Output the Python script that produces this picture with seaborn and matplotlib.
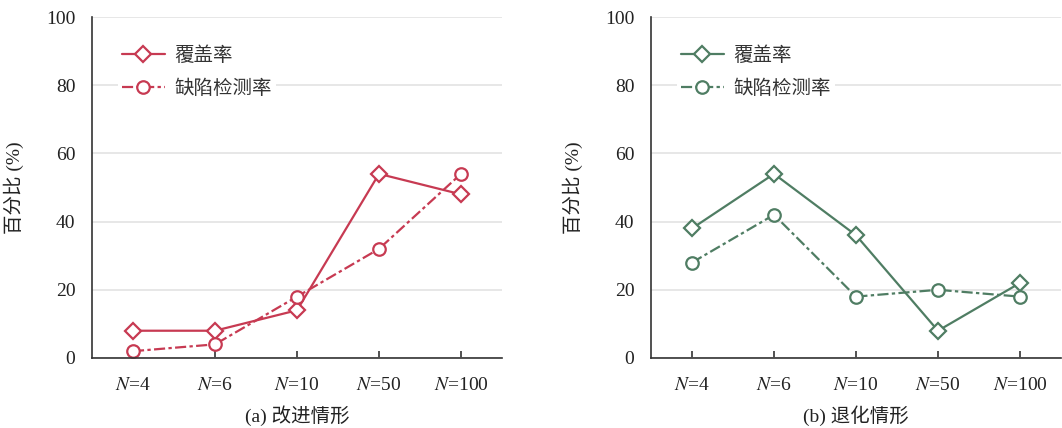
import matplotlib
matplotlib.use("Agg")
import matplotlib.pyplot as plt
import seaborn as sns

categories = ["$N$=4", "$N$=6", "$N$=10", "$N$=50", "$N$=100"]
improve_coverage = [8, 8, 14, 54, 48]
improve_detect = [2, 4, 18, 32, 54]
degrade_coverage = [38, 54, 36, 8, 22]
degrade_detect = [28, 42, 18, 20, 18]
series_names = ["覆盖率", "缺陷检测率"]
yticks = [0, 20, 40, 60, 80, 100]
subtitles = ["(a) 改进情形", "(b) 退化情形"]
ylabel = "百分比 (%)"

sns.set_theme(style="white")
plt.rcParams['font.family'] = ['Liberation Serif', 'Noto Sans CJK SC']
plt.rcParams['mathtext.fontset'] = 'stix'

fig = plt.figure(figsize=(10.62, 4.28), dpi=100)
W, H = 1062, 428
ax1 = fig.add_axes([92 / W, 70 / H, 410 / W, 341 / H])
ax2 = fig.add_axes([651 / W, 70 / H, 410 / W, 341 / H])

panels = [
    (ax1, improve_coverage, improve_detect, "#c73a52", subtitles[0]),
    (ax2, degrade_coverage, degrade_detect, "#4f7d63", subtitles[1]),
]

for ax, cov, det, color, sub in panels:
    sns.lineplot(x=categories, y=cov, ax=ax, color=color, lw=1.6, marker="D",
                 markersize=8, markerfacecolor="white", markeredgecolor=color,
                 markeredgewidth=1.6, label=series_names[0], sort=False)
    sns.lineplot(x=categories, y=det, ax=ax, color=color, lw=1.6, marker="o",
                 markersize=9, markerfacecolor="white", markeredgecolor=color,
                 markeredgewidth=1.6, label=series_names[1], sort=False)
    ax.lines[1].set_linestyle((0, (5, 1.5, 1.5, 1.5)))
    ax.set_xlim(-0.5, 4.5)
    ax.set_ylim(0, 100)
    ax.set_yticks(yticks)
    ax.set_yticklabels([str(v) for v in yticks])
    ax.yaxis.grid(True, color="#e3e3e3", lw=1.2)
    ax.xaxis.grid(False)
    ax.set_axisbelow(True)
    for s in ["top", "right"]:
        ax.spines[s].set_visible(False)
    for s in ["left", "bottom"]:
        ax.spines[s].set_color("#333333")
        ax.spines[s].set_linewidth(1.2)
    ax.tick_params(axis="x", direction="in", length=5, width=1.2, color="#333333",
                   labelsize=14, pad=14, bottom=True)
    ax.tick_params(axis="y", length=0, labelsize=14, pad=12)
    ax.set_xlabel(sub, fontsize=14, labelpad=8, color="#222222")
    ax.set_ylabel(ylabel, fontsize=14, labelpad=16, color="#222222")
    for t in ax.get_xticklabels() + ax.get_yticklabels():
        t.set_color("#222222")
    leg = ax.legend(loc="upper left", bbox_to_anchor=(0.04, 0.955), frameon=True,
                    fontsize=14, handlelength=2.2, handletextpad=0.5,
                    labelspacing=0.75, borderpad=0.2)
    leg.get_frame().set_facecolor("white")
    leg.get_frame().set_edgecolor("none")
    leg.get_frame().set_alpha(1)
    for t in leg.get_texts():
        t.set_color("#333333")

fig.savefig("out.png", dpi=100, facecolor="white")
